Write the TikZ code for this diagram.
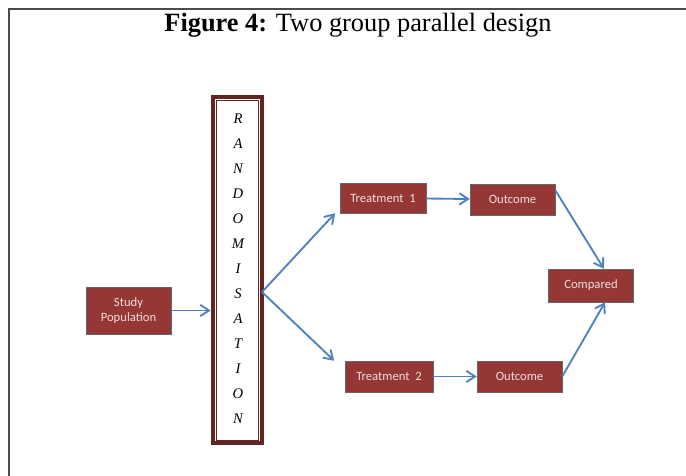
\documentclass[tikz,border=0pt]{standalone}
\usepackage{fontspec}
\setmainfont{Liberation Serif}
\newfontfamily\boxfont{Carlito}
\usepackage{tikz}
\usetikzlibrary{arrows.meta,positioning}
\definecolor{boxred}{HTML}{953735}
\definecolor{randred}{HTML}{632523}
\definecolor{boxtext}{HTML}{F2DCDB}
\definecolor{arrowblue}{HTML}{4F81BD}
\tikzset{
  stepbox/.style={draw=black!60,fill=boxred,text=boxtext,font=\boxfont\fontsize{10.8}{13}\selectfont,
    minimum width=2.55cm,minimum height=0.93cm,inner sep=1pt,align=center},
  flow/.style={draw=arrowblue,line width=1.6pt,-{Straight Barb[length=2.6mm,width=3.4mm,line width=1.6pt]}}
}

\begin{document}
\begin{tikzpicture}[x=0.03cm,y=-0.03cm]
    \useasboundingbox (0,0) rectangle (686,476);
    \draw[black!70,line width=1.2pt] (9,476) -- (9,9) -- (686,9);

    \path (358,25) node (title) {\fontsize{22.5}{26}\selectfont\textbf{Figure 4:} Two group parallel design};

    \path
    (128.5,310.5) node[stepbox,minimum height=1.41cm] (study) {Study\\Population}
    (237.5,270) node[draw=randred,line width=4pt,minimum width=1.47cm,minimum height=10.38cm] (rand) {}
    (262,292) coordinate (split)
    (383,198) node[stepbox,minimum width=2.58cm,minimum height=0.9cm] (treat1) {Treatment\ \ 1}
    (512.5,199.5) node[stepbox] (out1) {Outcome}
    (389,376.5) node[stepbox,minimum width=2.64cm] (treat2) {Treatment\ \ 2}
    (519.5,376.5) node[stepbox] (out2) {Outcome}
    (591,285.5) node[stepbox,minimum height=0.99cm] (comp) {Compared}
    ;
    \draw[randred,line width=0.6pt] ([shift={(5.5,5.5)}]rand.north west) rectangle ([shift={(-5.5,-5.5)}]rand.south east);

    \foreach \l [count=\i from 0] in {R,A,N,D,O,M,I,S,A,T,I,O,N}
      \path (238,119+25*\i) node[font=\itshape\fontsize{12.5}{14}\selectfont] (let\i) {\l};

    \draw[flow] (study.east) -- (study.east -| rand.west);
    \draw[flow] (split) -- ([xshift=-4]treat1.south west);
    \draw[flow] (split) -- ([xshift=-9]treat2.north west);
    \draw[flow] (treat1) -- (out1);
    \draw[flow] (treat2) -- (out2);
    \draw[flow] ([yshift=8]out1.east) -- ([xshift=11]comp.north);
    \draw[flow] (out2.east) -- ([xshift=12]comp.south);
\end{tikzpicture}
\end{document}
